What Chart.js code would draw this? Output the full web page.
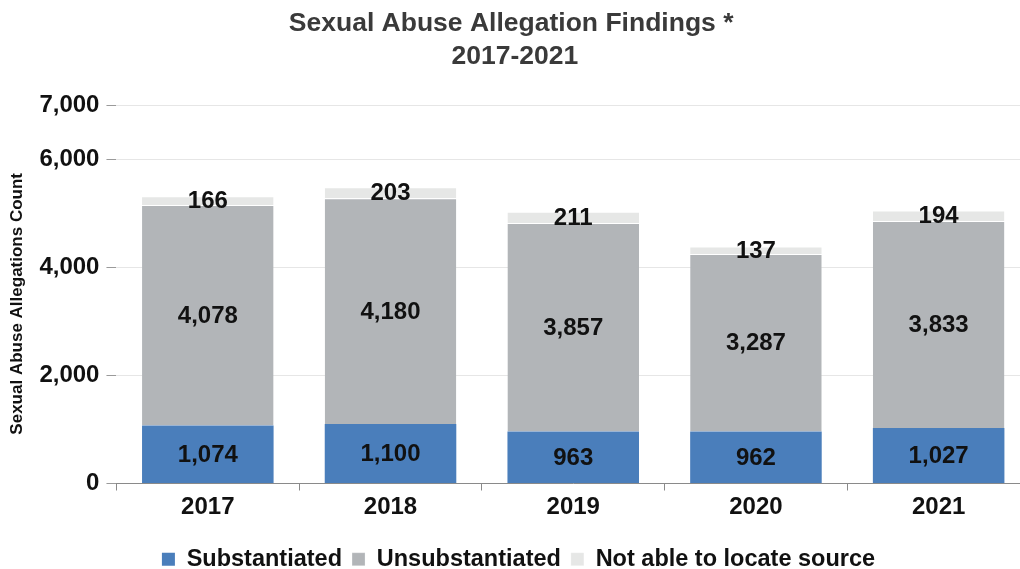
<!DOCTYPE html>
<html>
<head>
<meta charset="utf-8">
<script src="https://cdn.jsdelivr.net/npm/chart.js@4"></script>
<style>
  html, body { margin: 0; padding: 0; overflow: hidden; background: #fff; }
  #wrap { width: 1020px; height: 569px; overflow: hidden; }
</style>
</head>
<body>
<div id="wrap"><canvas id="stats" width="1030" height="569"></canvas></div>
<script>
const years = ['2017', '2018', '2019', '2020', '2021'];
const substantiated = [1074, 1100, 963, 962, 1027];
const unsubstantiated = [4078, 4180, 3857, 3287, 3833];
const notLocated = [166, 203, 211, 137, 194];
const yTicks = [0, 2000, 4000, 6000, 7000];

const FONT = "'Liberation Sans', Arial, sans-serif";
const fmt = (v) => v.toLocaleString('en-US');

// values written in the middle of every segment
const segmentLabels = {
  id: 'segmentLabels',
  afterDatasetsDraw(chart) {
    const { ctx } = chart;
    ctx.save();
    ctx.font = `bold 24px ${FONT}`;
    ctx.fillStyle = '#111';
    ctx.textAlign = 'center';
    ctx.textBaseline = 'middle';
    chart.data.datasets.forEach((ds, i) => {
      chart.getDatasetMeta(i).data.forEach((bar, j) => {
        const y = (bar.y + bar.base) / 2;
        ctx.fillText(fmt(ds.data[j]), bar.x, y + 1);
      });
    });
    ctx.restore();
  },
};

const white = { top: 1, left: 0, right: 0, bottom: 0 };

new Chart(document.getElementById('stats'), {
  type: 'bar',
  plugins: [segmentLabels],
  data: {
    labels: years,
    datasets: [{
      label: 'Substantiated',
      data: substantiated,
      backgroundColor: '#4a7ebb',
      borderColor: '#fff',
      borderWidth: 0,
    }, {
      label: 'Unsubstantiated',
      data: unsubstantiated,
      backgroundColor: '#b2b5b8',
      borderColor: '#fff',
      borderWidth: white,
      borderSkipped: false,
    }, {
      label: 'Not able to locate source',
      data: notLocated,
      backgroundColor: '#e6e7e6',
      borderColor: '#fff',
      borderWidth: white,
      borderSkipped: false,
    }],
  },
  options: {
    responsive: false,
    animation: false,
    categoryPercentage: 1,
    barPercentage: 0.72,
    layout: { padding: { left: 7, right: 0, top: 0, bottom: -12 } },
    plugins: {
      title: {
        display: true,
        // trailing spaces pull the centred title slightly left, like the original
        text: ['Sexual Abuse Allegation Findings *  ', '2017-2021 '],
        color: '#3a3a3a',
        font: { family: FONT, size: 26.5, weight: 'bold', lineHeight: 1.25 },
        padding: { top: 7, bottom: 32 },
      },
      legend: {
        position: 'bottom',
        title: {
          display: true,
          text: '',
          font: { size: 1 },
          padding: { top: 0, bottom: 13 },
        },
        labels: {
          color: '#111',
          boxWidth: 13,
          boxHeight: 13,
          padding: 10,
          font: { family: FONT, size: 23.5, weight: 'bold' },
        },
      },
      tooltip: { enabled: false },
    },
    scales: {
      x: {
        stacked: true,
        offset: true,
        grid: {
          display: true,
          drawOnChartArea: false,
          drawTicks: true,
          tickLength: 7,
          color: '#8a8a8a',
        },
        border: { display: true, color: '#8a8a8a' },
        ticks: {
          color: '#111',
          padding: 2,
          font: { family: FONT, size: 24, weight: 'bold' },
        },
      },
      y: {
        stacked: true,
        min: 0,
        max: 7000,
        afterBuildTicks: (scale) => {
          scale.ticks = yTicks.map((v) => ({ value: v }));
        },
        grid: {
          color: '#e6e6e6',
          tickColor: '#9a9a9a',
          tickLength: 10,
        },
        border: { display: false },
        ticks: {
          color: '#111',
          padding: 7,
          font: { family: FONT, size: 24, weight: 'bold' },
          callback: (v) => fmt(v),
        },
        title: {
          display: true,
          // trailing spaces nudge the rotated title a little lower, as in the original
          text: 'Sexual Abuse Allegations Count    ',
          color: '#111',
          font: { family: FONT, size: 17, weight: 'bold' },
          padding: { top: 0, bottom: 5 },
        },
      },
    },
  },
});
</script>
</body>
</html>
